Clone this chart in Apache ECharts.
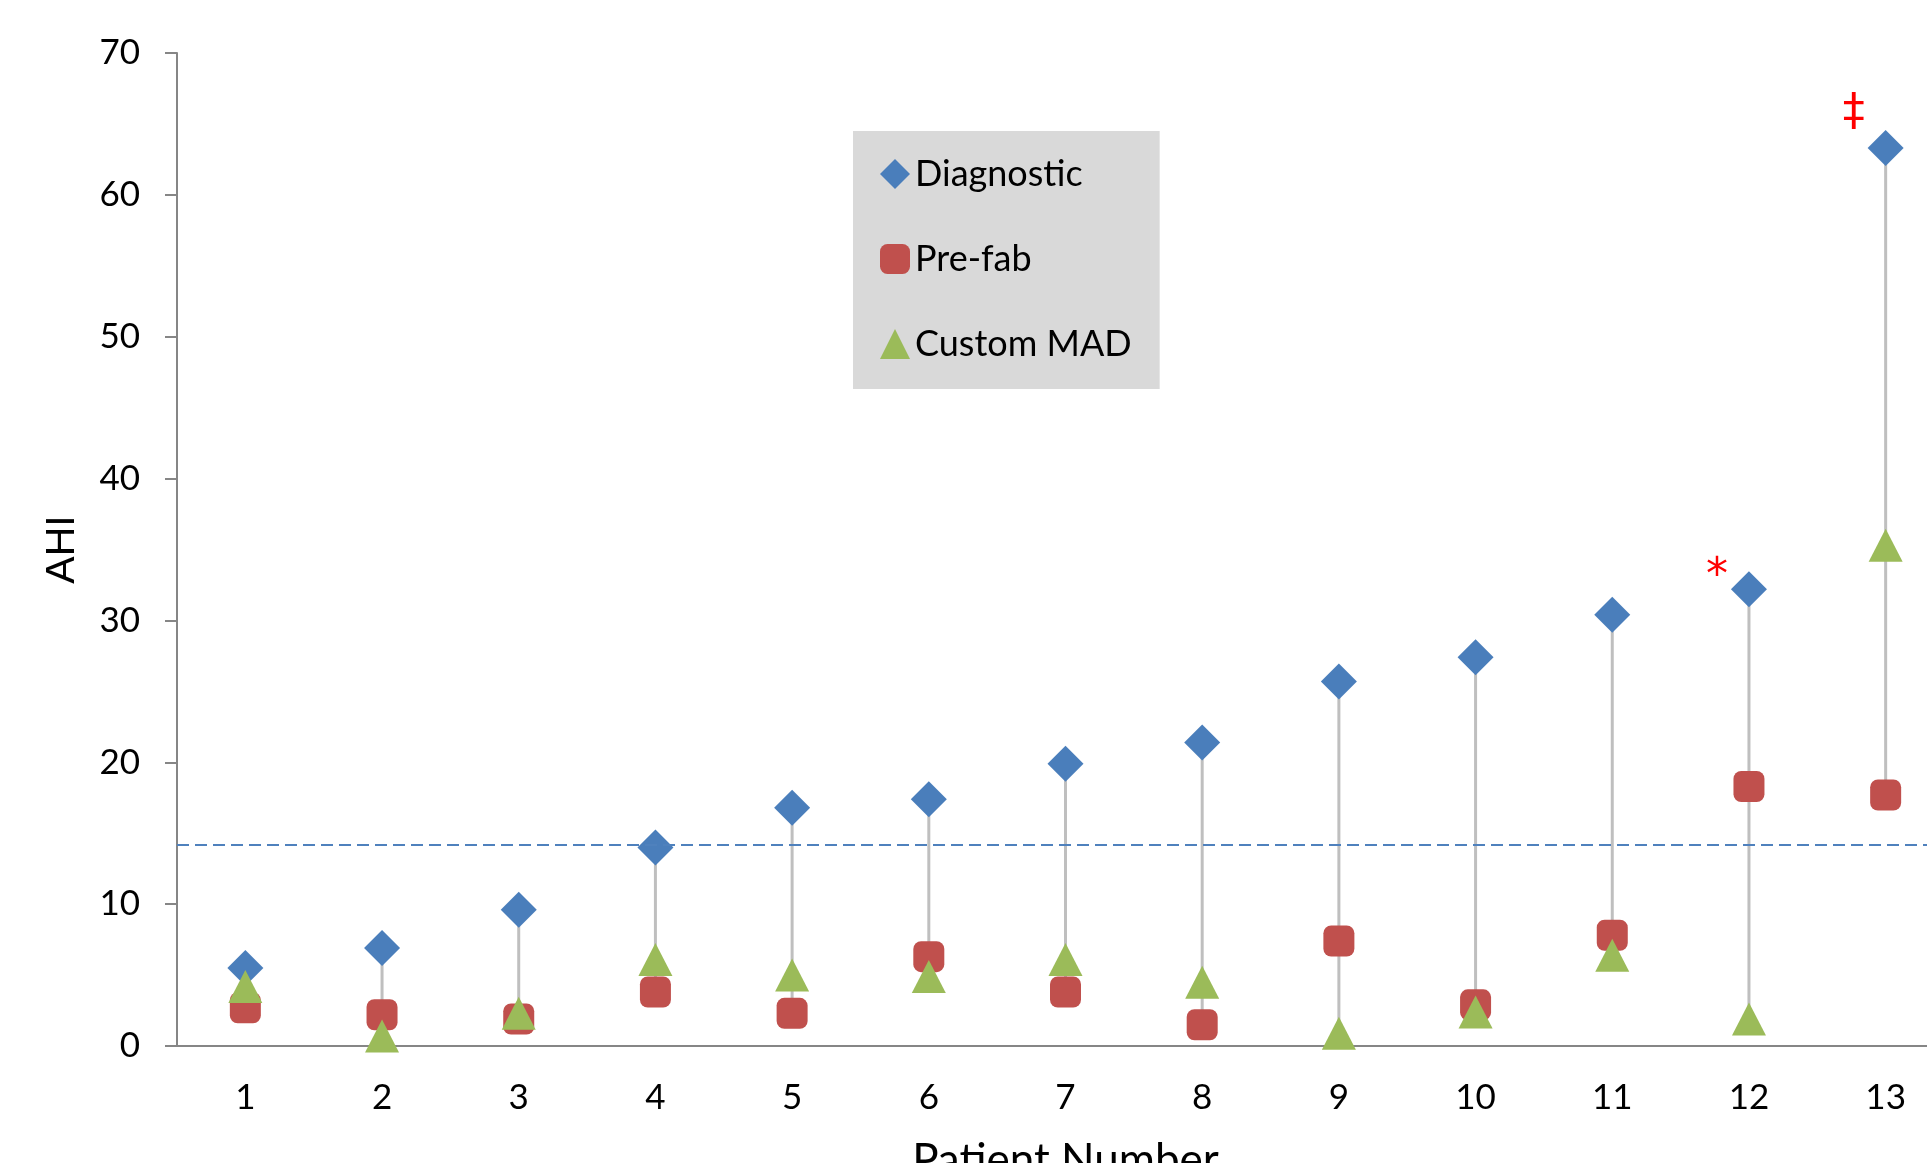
<!DOCTYPE html>
<html>
<head>
<meta charset="utf-8">
<script src="https://cdn.jsdelivr.net/npm/echarts@6/dist/echarts.min.js"></script>
<style>
html,body{margin:0;padding:0;background:#fff;}
#main{width:1927px;height:1163px;}
</style>
</head>
<body>
<div id="main"></div>
<script>
const categories = ['1','2','3','4','5','6','7','8','9','10','11','12','13'];
const diagnostic = [5.5, 6.9, 9.6, 14.0, 16.8, 17.4, 19.9, 21.4, 25.7, 27.4, 30.4, 32.2, 63.3];
const prefab     = [2.7, 2.2, 1.9, 3.8, 2.3, 6.3, 3.8, 1.5, 7.4, 2.9, 7.8, 18.3, 17.7];
const customMAD  = [4.2, 0.7, 2.3, 6.1, 5.0, 4.9, 6.1, 4.5, 0.9, 2.4, 6.4, 1.9, 35.3];
const thresholdValue = 14.2;
const yTicks = [0, 10, 20, 30, 40, 50, 60, 70];
const annotations = [
  { cat: '12', text: '*' },
  { cat: '13', text: '\u2021' }
];

const calibriLike = 'Lato, "Noto Sans", sans-serif';

const rangeData = categories.map((c, i) => {
  const vals = [diagnostic[i], prefab[i], customMAD[i]];
  return [i, Math.max.apply(null, vals), Math.min.apply(null, vals)];
});

const chart = echarts.init(document.getElementById('main'), null, { renderer: 'canvas' });

chart.setOption({
  backgroundColor: '#ffffff',
  animation: false,
  grid: { left: 177, top: 53, bottom: 117, right: -27, containLabel: false, outerBoundsMode: 'none' },
  legend: {
    orient: 'vertical',
    left: 853,
    top: 131,
    backgroundColor: '#d9d9d9',
    padding: [25, 28, 27, 27],
    itemGap: 49,
    itemWidth: 30,
    itemHeight: 30,
    data: ['Diagnostic', 'Pre-fab', 'Custom MAD'],
    textStyle: { fontFamily: calibriLike, fontSize: 36, color: '#000', lineHeight: 36, width: 213, padding: [0, 0, 0, 0] }
  },
  xAxis: {
    type: 'category',
    data: categories,
    boundaryGap: true,
    name: 'Patient Number',
    nameLocation: 'middle',
    nameGap: 93,
    nameTextStyle: { fontFamily: calibriLike, fontSize: 44, color: '#000' },
    axisLine: { lineStyle: { color: '#868686', width: 2 } },
    axisTick: { alignWithLabel: true, length: 9, lineStyle: { color: '#868686', width: 2 } },
    axisLabel: { fontFamily: calibriLike, fontSize: 35, color: '#000', margin: 34 },
    splitLine: { show: false }
  },
  yAxis: {
    type: 'value',
    min: yTicks[0],
    max: yTicks[yTicks.length - 1],
    interval: 10,
    name: 'AHI',
    nameLocation: 'middle',
    nameGap: 94,
    nameRotate: 90,
    nameTextStyle: { fontFamily: '"Liberation Sans", Arial, sans-serif', fontSize: 41, color: '#000' },
    axisLine: { show: true, lineStyle: { color: '#868686', width: 2 } },
    axisTick: { show: true, length: 12, lineStyle: { color: '#868686', width: 2 } },
    axisLabel: { fontFamily: calibriLike, fontSize: 35, color: '#000', margin: 37 },
    splitLine: { show: false }
  },
  series: [
    {
      name: 'range',
      type: 'custom',
      data: rangeData,
      z: 1,
      silent: true,
      renderItem: function (params, api) {
        const p1 = api.coord([api.value(0), api.value(1)]);
        const p2 = api.coord([api.value(0), api.value(2)]);
        return {
          type: 'line',
          shape: { x1: p1[0], y1: p1[1], x2: p2[0], y2: p2[1] },
          style: { stroke: '#bfbfbf', lineWidth: 3 }
        };
      },
      markLine: {
        silent: true,
        symbol: ['none', 'none'],
        label: { show: false },
        lineStyle: { color: '#4f81bd', type: [12, 6], width: 2 },
        data: [{ yAxis: thresholdValue }]
      }
    },
    {
      name: 'Diagnostic',
      type: 'scatter',
      data: diagnostic,
      symbol: 'diamond',
      symbolSize: [36, 36],
      itemStyle: { color: '#4a7ebb', opacity: 1 },
      z: 3,
      markPoint: {
        symbol: 'circle',
        symbolSize: 1,
        itemStyle: { color: 'rgba(0,0,0,0)' },
        label: { show: true, position: 'inside', color: '#ff0000', fontSize: 44, fontFamily: '"DejaVu Sans", sans-serif', formatter: function (p) { return p.name; } },
        data: annotations.map(a => ({
          name: a.text,
          coord: [a.cat, diagnostic[categories.indexOf(a.cat)]],
          label: { offset: a.text === '*' ? [-32, -12] : [-32, -34] }
        }))
      }
    },
    {
      name: 'Pre-fab',
      type: 'scatter',
      data: prefab,
      symbol: 'roundRect',
      symbolSize: [31, 31],
      itemStyle: { color: '#c0504d', opacity: 1 },
      z: 4
    },
    {
      name: 'Custom MAD',
      type: 'scatter',
      data: customMAD,
      symbol: 'triangle',
      symbolSize: [34, 33],
      itemStyle: { color: '#9bbb59', opacity: 1 },
      z: 5
    }
  ]
});
</script>
</body>
</html>
